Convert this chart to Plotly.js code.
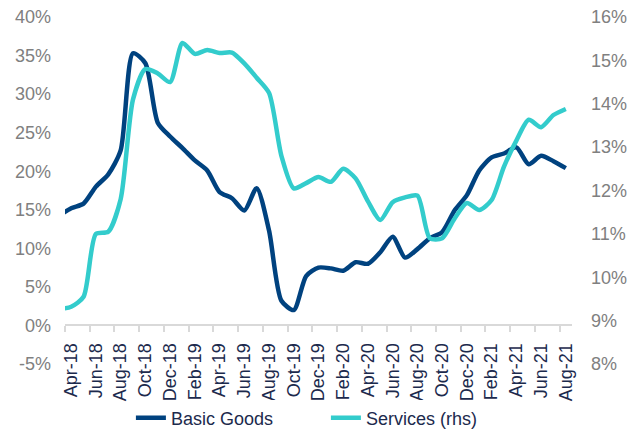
<html lang="en">
  <head>
    <meta charset="UTF-8" />
    <title>Basic Goods vs Services</title>
    <script src="https://cdn.plot.ly/plotly-3.0.1.min.js"></script>
    <style>
      body { margin: 0; background: #fff; }
    </style>
  </head>
  <body>
    <div id="chart" style="width: 643px; height: 432px;"></div>
    <script>
      // monthly categories (Mar-18 is only partly visible at the left edge)
      const months = [
        'Mar-18', 'Apr-18', 'May-18', 'Jun-18', 'Jul-18', 'Aug-18', 'Sep-18', 'Oct-18', 'Nov-18', 'Dec-18',
        'Jan-19', 'Feb-19', 'Mar-19', 'Apr-19', 'May-19', 'Jun-19', 'Jul-19', 'Aug-19', 'Sep-19', 'Oct-19',
        'Nov-19', 'Dec-19', 'Jan-20', 'Feb-20', 'Mar-20', 'Apr-20', 'May-20', 'Jun-20', 'Jul-20', 'Aug-20',
        'Sep-20', 'Oct-20', 'Nov-20', 'Dec-20', 'Jan-21', 'Feb-21', 'Mar-21', 'Apr-21', 'May-21', 'Jun-21',
        'Jul-21', 'Aug-21'
      ];

      // Basic Goods, % (left axis)
      const basicGoods = [
        14.2, 15.2, 15.8, 18.0, 19.6, 22.7, 35.3, 34.0, 26.3, 24.5,
        23.0, 21.4, 20.1, 17.3, 16.5, 14.9, 17.8, 12.3, 3.2, 2.0,
        6.4, 7.5, 7.4, 7.1, 8.2, 8.0, 9.5, 11.5, 8.8, 9.9,
        11.3, 12.1, 14.9, 16.9, 20.1, 21.8, 22.3, 23.1, 20.9, 22.0,
        21.3, 20.4
      ];

      // Services, % (right axis)
      const services = [
        9.27, 9.32, 9.55, 11.0, 11.05, 11.8, 14.1, 14.8, 14.7, 14.5,
        15.4, 15.15, 15.24, 15.17, 15.18, 14.93, 14.6, 14.25, 12.8, 12.05,
        12.17, 12.31, 12.2, 12.5, 12.28, 11.75, 11.32, 11.73, 11.84, 11.88,
        10.9, 10.9, 11.35, 11.71, 11.55, 11.78, 12.55, 13.15, 13.63, 13.46,
        13.74, 13.88
      ];

      const leftTicks = [-5, 0, 5, 10, 15, 20, 25, 30, 35, 40];
      const rightTicks = [8, 9, 10, 11, 12, 13, 14, 15, 16];

      const xIdx = months.map((_, i) => i - 1);

      // labels on every second month from Apr-18, tick marks between categories
      const labelVals = [];
      const labelText = [];
      const tickMarks = [];
      for (let i = 0; i <= 40; i += 2) {
        labelVals.push(i);
        labelText.push(months[i + 1]);
        tickMarks.push(i - 0.5);
      }

      const navy = '#00427f';
      const cyan = '#33cccc';
      const textNavy = '#1c2a4d';
      const grey = '#808080';

      const traces = [
        {
          x: xIdx,
          y: basicGoods,
          name: 'Basic Goods',
          type: 'scatter',
          mode: 'lines',
          line: { color: navy, width: 4.5, shape: 'spline', smoothing: 0.7 }
        },
        {
          x: xIdx,
          y: services,
          name: 'Services (rhs)',
          type: 'scatter',
          mode: 'lines',
          yaxis: 'y2',
          line: { color: cyan, width: 4.5, shape: 'spline', smoothing: 0.7 }
        }
      ];

      const layout = {
        width: 643,
        height: 432,
        margin: { l: 65, r: 71, t: 17, b: 68, autoexpand: false },
        paper_bgcolor: '#ffffff',
        plot_bgcolor: '#ffffff',
        font: { family: 'Liberation Sans, Arial, sans-serif', size: 18, color: grey },
        showlegend: true,
        legend: {
          orientation: 'h',
          x: 0.13,
          xanchor: 'left',
          y: -0.156,
          yanchor: 'middle',
          font: { size: 18, color: textNavy },
          entrywidthmode: 'pixels',
          entrywidth: 150
        },
        xaxis: {
          range: [-0.5, 40.5],
          anchor: 'free',
          position: 0.1124,
          automargin: false,
          tickmode: 'array',
          tickvals: labelVals,
          ticktext: labelText,
          tickangle: -90,
          ticks: 'outside',
          ticklen: 10,
          tickcolor: 'rgba(0,0,0,0)',
          tickfont: { size: 18, color: textNavy },
          showline: true,
          linecolor: '#d9d9d9',
          linewidth: 2,
          showgrid: false,
          zeroline: false,
          minor: {
            tickmode: 'array',
            tickvals: tickMarks,
            ticks: 'outside',
            ticklen: 6,
            tickwidth: 2,
            tickcolor: '#d9d9d9',
            showgrid: false
          }
        },
        yaxis: {
          range: [-5, 40],
          automargin: false,
          tickmode: 'array',
          tickvals: leftTicks,
          ticktext: leftTicks.map(v => v + '%'),
          ticks: '',
          ticklabelstandoff: 13,
          tickfont: { size: 18, color: grey },
          showgrid: false,
          zeroline: false,
          showline: false
        },
        yaxis2: {
          range: [8, 16],
          overlaying: 'y',
          side: 'right',
          automargin: false,
          tickmode: 'array',
          tickvals: rightTicks,
          ticktext: rightTicks.map(v => v + '%'),
          ticks: '',
          ticklabelstandoff: 18,
          tickfont: { size: 18, color: grey },
          showgrid: false,
          zeroline: false,
          showline: false
        }
      };

      Plotly.newPlot('chart', traces, layout, { displayModeBar: false, staticPlot: true });
    </script>
  </body>
</html>
